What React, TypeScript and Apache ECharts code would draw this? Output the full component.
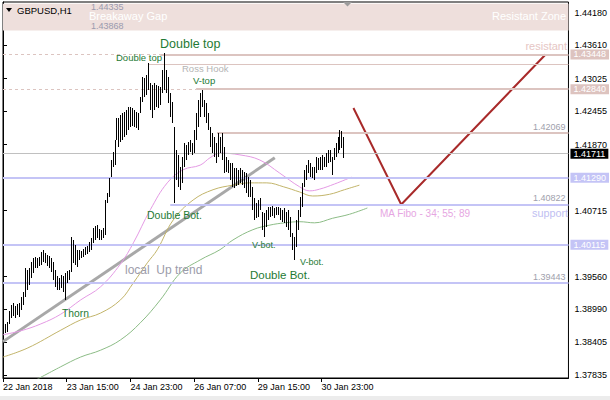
import { useEffect, useRef } from 'react';
import * as echarts from 'echarts';

// Time axis: one bar per hour, label every 32 bars
const xLabelIndex = [0, 32, 64, 96, 128, 160];
const xLabels = ['22 Jan 2018', '23 Jan 15:00', '24 Jan 23:00', '26 Jan 07:00', '29 Jan 15:00', '30 Jan 23:00'];

// Price scale labels
const priceTicks = [1.4418, 1.4361, 1.43025, 1.42455, 1.4187, 1.4129, 1.40715, 1.40115, 1.3956, 1.3899, 1.38405, 1.37835];

// GBPUSD H1 bar highs / lows
const barHigh = [
  1.3871, 1.3873, 1.3876, 1.3896, 1.3906, 1.391, 1.3904, 1.3908, 1.391, 1.392,
  1.3929, 1.3971, 1.3967, 1.3971, 1.3981, 1.3989, 1.399, 1.3989, 1.399, 1.3999,
  1.4003, 1.3997, 1.3994, 1.3992, 1.3989, 1.3981, 1.3967, 1.3957, 1.3953, 1.3959,
  1.3957, 1.3962, 1.3966, 1.3967, 1.4025, 1.402, 1.4011, 1.4003, 1.4003, 1.4001,
  1.4004, 1.4008, 1.401, 1.4017, 1.4024, 1.4041, 1.4045, 1.4046, 1.4039, 1.4038,
  1.4041, 1.409, 1.4102, 1.4129, 1.416, 1.4174, 1.4195, 1.4234, 1.4234, 1.4239,
  1.4242, 1.4244, 1.4248, 1.4253, 1.4253, 1.4251, 1.4248, 1.4244, 1.4242, 1.427,
  1.4305, 1.4304, 1.4309, 1.433, 1.4295, 1.4291, 1.4295, 1.4291, 1.429, 1.4288,
  1.4318, 1.4347, 1.4318, 1.4305, 1.4277, 1.4262, 1.4218, 1.4178, 1.4169, 1.4148,
  1.4165, 1.419, 1.4186, 1.4192, 1.4195, 1.419, 1.4213, 1.4242, 1.4265, 1.4277,
  1.4283, 1.4265, 1.426, 1.4242, 1.4218, 1.4207, 1.42, 1.419, 1.4207, 1.42,
  1.4207, 1.4183, 1.4165, 1.416, 1.4155, 1.4155, 1.4146, 1.4146, 1.4143, 1.4146,
  1.4143, 1.4139, 1.4137, 1.413, 1.4125, 1.4113, 1.4093, 1.4085, 1.409, 1.4093,
  1.4069, 1.4067, 1.4073, 1.4078, 1.4078, 1.408, 1.4076, 1.4078, 1.4078, 1.4076,
  1.4073, 1.4076, 1.4069, 1.4073, 1.406, 1.4032, 1.4025, 1.4055, 1.4073, 1.4095,
  1.412, 1.4143, 1.4151, 1.416, 1.4155, 1.4148, 1.4148, 1.4165, 1.4164, 1.4165,
  1.4169, 1.4165, 1.4172, 1.4178, 1.4178, 1.4165, 1.4181, 1.419, 1.42, 1.4213,
  1.4211, 1.42,
];
const barLow = [
  1.3857, 1.3857, 1.3859, 1.3873, 1.3883, 1.3887, 1.3883, 1.3889, 1.3885, 1.3897,
  1.3906, 1.392, 1.3932, 1.3941, 1.3953, 1.3962, 1.3971, 1.3971, 1.3974, 1.3976,
  1.3981, 1.398, 1.3974, 1.3971, 1.3964, 1.395, 1.3938, 1.3932, 1.3932, 1.3936,
  1.3929, 1.3915, 1.3945, 1.395, 1.3964, 1.398, 1.3976, 1.3973, 1.3985, 1.3989,
  1.399, 1.3994, 1.3996, 1.3999, 1.4003, 1.4015, 1.402, 1.4024, 1.402, 1.402,
  1.4024, 1.4029, 1.4085, 1.4095, 1.413, 1.4148, 1.4151, 1.4195, 1.4183, 1.4192,
  1.4195, 1.42, 1.4204, 1.4213, 1.4218, 1.422, 1.4218, 1.4216, 1.4213, 1.4242,
  1.4262, 1.427, 1.4274, 1.4283, 1.4248, 1.4234, 1.4248, 1.4253, 1.4251, 1.4256,
  1.4277, 1.4283, 1.4277, 1.426, 1.4235, 1.4225, 1.4085, 1.4125, 1.4113, 1.4108,
  1.412, 1.4148, 1.416, 1.4169, 1.4174, 1.4169, 1.4172, 1.4195, 1.4218, 1.4235,
  1.4253, 1.4235, 1.4225, 1.4213, 1.4183, 1.4172, 1.4165, 1.4155, 1.4165, 1.4172,
  1.416, 1.4137, 1.4139, 1.4137, 1.4125, 1.4113, 1.4111, 1.4115, 1.4116, 1.412,
  1.4116, 1.4111, 1.4102, 1.4095, 1.4095, 1.4073, 1.4055, 1.4058, 1.406, 1.4073,
  1.4038, 1.4025, 1.4043, 1.4055, 1.406, 1.4062, 1.4058, 1.4064, 1.4064, 1.4055,
  1.4052, 1.405, 1.4043, 1.4038, 1.4025, 1.4003, 1.3985, 1.4008, 1.4038, 1.406,
  1.4078, 1.4113, 1.4125, 1.4137, 1.413, 1.4129, 1.4125, 1.4137, 1.4143, 1.4143,
  1.4143, 1.4148, 1.4148, 1.4155, 1.4157, 1.4134, 1.416, 1.4165, 1.4172, 1.4178,
  1.4181, 1.4164,
];

// Shifted moving averages (Fibonacci periods), [bar, price]
const ma34 = [
  [0, 1.3854], [9, 1.3861], [19, 1.3873], [29, 1.389], [39, 1.3915], [49, 1.3938],
  [59, 1.3978], [65.5, 1.4015], [74, 1.4073], [82.5, 1.412], [90.5, 1.4143], [99, 1.4151],
  [104, 1.4164], [109, 1.4172], [119, 1.4169], [129, 1.416], [139, 1.4137], [149, 1.4113],
  [154, 1.4106], [159, 1.4109], [166.5, 1.4118], [175, 1.413],
];
const ma55 = [
  [0, 1.3815], [12.5, 1.3831], [29, 1.3862], [39, 1.388], [49, 1.3892], [59, 1.3915],
  [65.5, 1.3945], [72.5, 1.398], [77.5, 1.4003], [85.5, 1.4055], [95.5, 1.409], [105.5, 1.4108],
  [115.5, 1.4116], [124, 1.412], [132.5, 1.412], [141, 1.4113], [149, 1.4104], [155.5, 1.4097],
  [164, 1.41], [171.5, 1.4108], [179, 1.4116],
];
const ma89 = [
  [15, 1.3772], [29, 1.3798], [39, 1.3815], [49, 1.3827], [59, 1.3845], [69, 1.3875],
  [79, 1.3915], [89, 1.3962], [99, 1.3985], [109, 1.4003], [115.5, 1.402], [125.5, 1.4038],
  [134, 1.4046], [141.5, 1.405], [149, 1.4052], [156.5, 1.405], [165.5, 1.4058], [174, 1.4065],
  [183, 1.4076],
];

// Drawn objects
const upTrend = [[0, 1.3842], [136.5, 1.4164]];
const forecast = [[176, 1.4251], [200, 1.40822], [272.5, 1.43448]];
const breakawayGap = [1.44335, 1.43868];
const resistLevel = 1.43448;
const rossHookLevel = 1.4328;
const vTopLevel = 1.4284;
const pivotLevel = 1.42069;
const bidPrice = 1.41711;
const support1 = 1.4129;
const doubleBotLevel = 1.40822;
const support2 = 1.40115;
const support3 = 1.39443;

const FONT = '"Liberation Sans", Arial, sans-serif';
const PINK = '#DCC4C0';
const LAV = '#C4C4F6';
const NOTE_GREEN = '#1E7A34';
const X_MAX = 284;

const boxLabel = (v: number, bg: string) => ({
  show: true,
  position: 'end',
  distance: 2,
  formatter: () => v.toFixed(5),
  color: '#fff',
  backgroundColor: bg,
  padding: [1, 3, 0, 3],
  lineHeight: 9,
  fontSize: 9,
  fontFamily: FONT,
});
const tagLabel = (v: number) => ({
  show: true,
  position: 'insideEndTop',
  distance: [3, 2],
  formatter: () => v.toFixed(5),
  color: '#A0A0AC',
  fontSize: 9,
  fontFamily: FONT,
});
const off = { show: false };

const segment = (from: number, to: number, v: number, lineStyle: any, label: any = off) => [
  { coord: [from, v], lineStyle, label },
  { coord: [to, v] },
];

const text = (t: string, x: number, y: number, size: number, fill: string, align = 'left') => ({
  type: 'text',
  x,
  y,
  silent: true,
  z: 100,
  style: { text: t, fill, font: `${size}px ${FONT}`, textAlign: align, textVerticalAlign: 'middle' },
});

export default function App() {
  const ref = useRef<HTMLDivElement>(null);

  useEffect(() => {
    if (!ref.current) return;
    const chart = echarts.init(ref.current, null, { renderer: 'svg' });

    const option: any = {
      animation: false,
      backgroundColor: '#fff',
      grid: { left: 2, right: 40, top: 2, bottom: 22, show: true, borderColor: '#000', borderWidth: 1 },
      xAxis: {
        type: 'value',
        min: 0,
        max: X_MAX,
        splitLine: { show: false },
        axisLine: { show: true, lineStyle: { color: '#000' } },
        axisTick: { show: true, customValues: xLabelIndex, length: 4, lineStyle: { color: '#000' } },
        axisLabel: {
          customValues: xLabelIndex,
          formatter: (v: number) => xLabels[xLabelIndex.indexOf(Math.round(v))] ?? '',
          align: 'left',
          margin: 4,
          color: '#000',
          fontSize: 9,
          fontFamily: FONT,
        },
      },
      yAxis: {
        type: 'value',
        position: 'right',
        min: 1.37783,
        max: 1.44367,
        splitLine: { show: false },
        axisLine: { show: true, lineStyle: { color: '#000' } },
        axisTick: { show: true, customValues: priceTicks, length: 4, lineStyle: { color: '#000' } },
        axisLabel: {
          customValues: priceTicks,
          formatter: (v: number) => v.toFixed(5),
          margin: 6,
          color: '#000',
          fontSize: 9,
          fontFamily: FONT,
        },
      },
      graphic: [
        { type: 'polygon', shape: { points: [[6, 8], [12, 8], [9, 12]] }, style: { fill: '#000' }, z: 100 },
        text('GBPUSD,H1', 17, 10, 9.5, '#000'),
        { type: 'polygon', shape: { points: [[343, 2], [352, 2], [347.5, 6.5]] }, style: { fill: '#9C9C9C' }, z: 100 },
        { type: 'rect', shape: { x: 0, y: 396, width: 610, height: 4 }, style: { fill: '#ECECEC' }, z: 100 },
        text(breakawayGap[0].toFixed(5), 91, 6.5, 9, '#9A9AAE'),
        text('Breakaway Gap', 89, 16, 11, '#FFFFFF'),
        text(breakawayGap[1].toFixed(5), 91, 26, 9, '#9A9AAE'),
        text('Resistant Zone', 566, 16, 11, '#FFFFFF', 'right'),
        text('resistant', 567, 46, 11, '#E6C6C4', 'right'),
        text('Double top', 160, 44, 12.5, NOTE_GREEN),
        text('Double top', 116, 57, 9.5, NOTE_GREEN),
        text('Ross Hook', 182, 68, 9.5, '#B4B4B4'),
        text('V-top', 193, 80.5, 9.5, NOTE_GREEN),
        text('Double Bot.', 147, 214.5, 10.5, NOTE_GREEN),
        text('V-bot.', 252, 245, 9, NOTE_GREEN),
        text('V-bot.', 300, 262, 9, NOTE_GREEN),
        text('Double Bot.', 250, 274.5, 11.5, NOTE_GREEN),
        text('Thorn', 62, 313, 10.3, NOTE_GREEN),
        text('local  Up trend', 125, 270, 12, '#9C9CAA'),
        text('MA Fibo - 34; 55; 89', 380, 213, 10, '#E6A6E2'),
        text('support', 568, 213, 10.8, '#C0C0F2', 'right'),
      ],
      series: [
        {
          name: 'local Up trend',
          type: 'line',
          data: upTrend,
          showSymbol: false,
          symbol: 'none',
          silent: true,
          z: 2,
          lineStyle: { color: '#A8A8A8', width: 3 },
          markArea: {
            silent: true,
            itemStyle: { color: '#EEDFDC' },
            label: off,
            data: [[{ yAxis: breakawayGap[0] }, { yAxis: breakawayGap[1] }]],
          },
          markLine: {
            silent: true,
            symbol: ['none', 'none'],
            precision: 5,
            data: [
              segment(0, 79, resistLevel, { color: PINK, width: 1, type: [3, 3] }),
              segment(79, X_MAX, resistLevel, { color: PINK, width: 2, type: 'solid' }, boxLabel(resistLevel, '#DDC3BF')),
              segment(73, X_MAX, rossHookLevel, { color: PINK, width: 1, type: 'solid' }),
              segment(0, 97, vTopLevel, { color: PINK, width: 1, type: [3, 3] }),
              segment(97, X_MAX, vTopLevel, { color: PINK, width: 2, type: 'solid' }, boxLabel(vTopLevel, '#DDC3BF')),
              segment(107.5, X_MAX, pivotLevel, { color: PINK, width: 2, type: 'solid' }, tagLabel(pivotLevel)),
              { yAxis: bidPrice, lineStyle: { color: '#C0C0C0', width: 1, type: 'solid' }, label: boxLabel(bidPrice, '#000000') },
              { yAxis: support1, lineStyle: { color: LAV, width: 2, type: 'solid' }, label: boxLabel(support1, LAV) },
              segment(84, X_MAX, doubleBotLevel, { color: LAV, width: 2, type: 'solid' }, tagLabel(doubleBotLevel)),
              { yAxis: support2, lineStyle: { color: LAV, width: 2, type: 'solid' }, label: boxLabel(support2, LAV) },
              { yAxis: support3, lineStyle: { color: LAV, width: 2, type: 'solid' }, label: tagLabel(support3) },
            ],
          },
        },
        {
          name: 'MA 34',
          type: 'line',
          data: ma34,
          showSymbol: false,
          symbol: 'none',
          smooth: 0.4,
          silent: true,
          z: 3,
          lineStyle: { color: '#E49AE4', width: 1 },
        },
        {
          name: 'MA 55',
          type: 'line',
          data: ma55,
          showSymbol: false,
          symbol: 'none',
          smooth: 0.4,
          silent: true,
          z: 3,
          lineStyle: { color: '#C2B46A', width: 1 },
        },
        {
          name: 'MA 89',
          type: 'line',
          data: ma89,
          showSymbol: false,
          symbol: 'none',
          smooth: 0.4,
          silent: true,
          z: 3,
          lineStyle: { color: '#8CBC86', width: 1 },
        },
        {
          name: 'forecast',
          type: 'line',
          data: forecast,
          showSymbol: false,
          symbol: 'none',
          silent: true,
          z: 3,
          lineStyle: { color: '#A82A2A', width: 2 },
        },
        {
          name: 'GBPUSD,H1',
          type: 'custom',
          z: 5,
          silent: true,
          data: barHigh.map((h, i) => [i, barLow[i], h]),
          encode: { x: 0, y: [1, 2] },
          renderItem: (_params: any, api: any) => {
            const i = api.value(0);
            const top = api.coord([i, api.value(2)]);
            const bottom = api.coord([i, api.value(1)]);
            const y0 = Math.round(top[1]);
            return {
              type: 'rect',
              shape: { x: Math.round(top[0]), y: y0, width: 1, height: Math.max(1, Math.round(bottom[1]) - y0) },
              style: { fill: '#000' },
            };
          },
        },
      ],
    };

    chart.setOption(option);
    return () => chart.dispose();
  }, []);

  return (
    <div
      ref={ref}
      style={{ position: 'absolute', left: 0, top: 0, width: 610, height: 400, background: '#fff' }}
    />
  );
}
